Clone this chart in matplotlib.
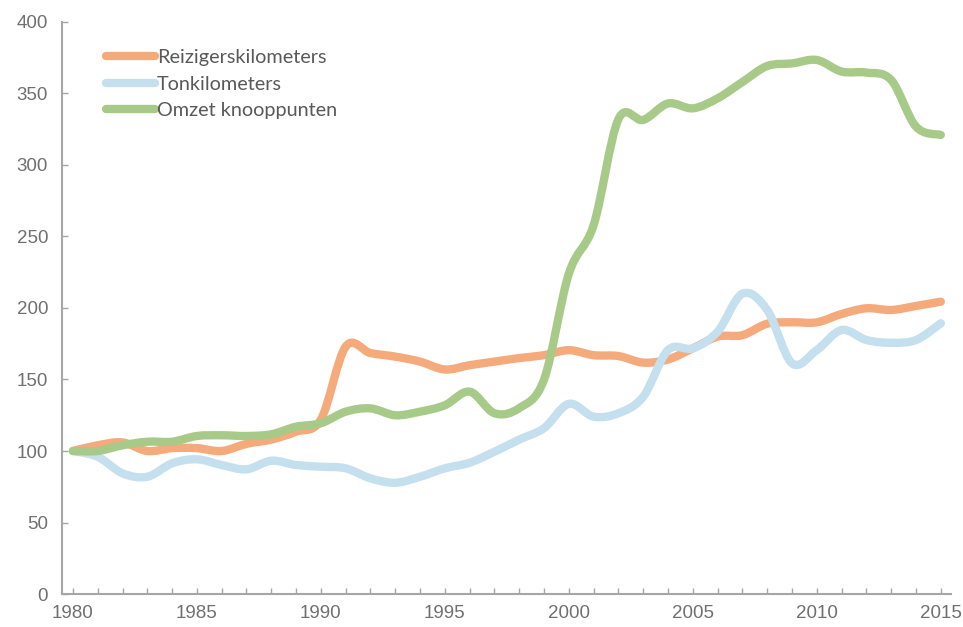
import numpy as np
import matplotlib
matplotlib.use("Agg")
import matplotlib.pyplot as plt
from matplotlib.path import Path
from matplotlib.patches import PathPatch
from matplotlib.lines import Line2D

# Index 1980 = 100
years = list(range(1980, 2016))
reizigers = [100, 104, 106, 100, 102, 102, 100, 105, 108, 113.5, 122, 173, 168.5, 166, 162.5, 157,
             160, 162.5, 165, 167, 170.5, 167, 166.4, 161.8, 164, 171.8, 180, 181, 189, 190,
             190, 195.8, 199.8, 198.6, 201.4, 204.4]
ton = [100, 96, 84.4, 82, 91.4, 94.2, 90.2, 87.2, 93.2, 90.2, 89, 87.9, 80.9, 77.8, 82, 87.9,
       91.8, 99.5, 108, 116, 133, 124, 126.4, 138, 170.6, 171.8, 183.4, 210, 198.6, 161.3,
       170.6, 184.6, 177.6, 175.7, 177.6, 189.3]
omzet = [100, 100, 104, 106.5, 106.5, 110.5, 111, 110.5, 111.7, 117, 119.4, 127.5, 129.8, 125,
         127.5, 132, 141.5, 126.4, 130, 150, 224, 258, 332, 331.5, 343, 339.6, 346.6, 358,
         369.2, 371, 373.4, 365.3, 364.6, 359.4, 326.8, 321]

series = [
    ("Reizigerskilometers", reizigers, "#F4AA7B"),
    ("Tonkilometers", ton, "#C4DFEE"),
    ("Omzet knooppunten", omzet, "#A8CA88"),
]


def smooth_path(x, y):
    # Excel-style smoothed line: cubic Bezier segments through every point
    x = np.asarray(x, float)
    y = np.asarray(y, float)
    n = len(x)
    verts = [(x[0], y[0])]
    codes = [Path.MOVETO]
    for i in range(n - 1):
        p0 = (x[max(i - 1, 0)], y[max(i - 1, 0)])
        p1 = (x[i], y[i])
        p2 = (x[i + 1], y[i + 1])
        p3 = (x[min(i + 2, n - 1)], y[min(i + 2, n - 1)])
        c1 = (p1[0] + (p2[0] - p0[0]) / 6, p1[1] + (p2[1] - p0[1]) / 6)
        c2 = (p2[0] - (p3[0] - p1[0]) / 6, p2[1] - (p3[1] - p1[1]) / 6)
        verts += [c1, c2, p2]
        codes += [Path.CURVE4] * 3
    return Path(verts, codes)


fig = plt.figure(figsize=(9.63, 6.27), dpi=100)
ax = fig.add_axes([0.0644, 0.0526, 0.9236, 0.9124])

handles = []
for name, vals, color in series:
    patch = PathPatch(smooth_path(years, vals), facecolor="none", edgecolor=color,
                      linewidth=6, capstyle="round", joinstyle="round")
    ax.add_patch(patch)
    handles.append(Line2D([], [], color=color, linewidth=6, solid_capstyle="round", label=name))

ax.set_xlim(1979.56, 2015.43)
ax.set_ylim(0, 400)
ax.set_yticks(range(0, 401, 50))
ax.set_xticks(range(1980, 2016, 5))
ax.set_xticks(years, minor=True)

axis_color = "#A6A6A6"
for side in ["top", "right"]:
    ax.spines[side].set_visible(False)
for side in ["left", "bottom"]:
    ax.spines[side].set_color(axis_color)
    ax.spines[side].set_linewidth(1.5)

ax.tick_params(axis="both", which="both", direction="in", length=4, width=1,
               color=axis_color, labelcolor="#707070", labelsize=13.5,
               labelfontfamily="Liberation Sans")
ax.tick_params(axis="x", pad=8)
ax.tick_params(axis="y", pad=10)

leg = ax.legend(handles=handles, loc="upper left", bbox_to_anchor=(0.04, 0.966),
                frameon=False, handlelength=2.5, handletextpad=0.1, labelspacing=0.47,
                prop={"family": "Lato", "size": 14.3}, borderaxespad=0)
for t in leg.get_texts():
    t.set_color("#595959")

fig.savefig("out.png", dpi=100)
